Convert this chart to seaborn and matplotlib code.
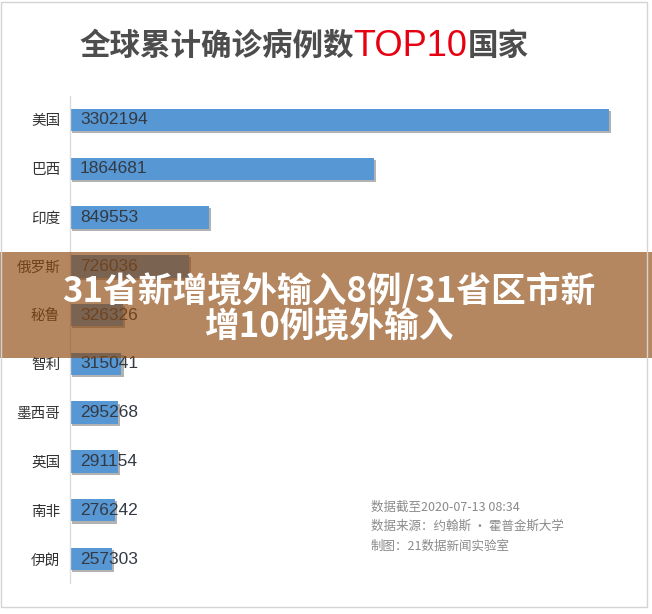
import matplotlib
matplotlib.use("Agg")
import matplotlib.pyplot as plt
import matplotlib.patheffects as pe
from matplotlib.patches import Rectangle
import pandas as pd
import seaborn as sns

# données
countries = ["美国", "巴西", "印度", "俄罗斯", "秘鲁", "智利", "墨西哥", "英国", "南非", "伊朗"]
cases = [3302194, 1864681, 849553, 726036, 326326, 315041, 295268, 291154, 276242, 257303]

title_parts = ["全球累计确诊病例数", "TOP10", "国家"]
notes = ["数据截至2020-07-13 08:34", "数据来源：约翰斯 · 霍普金斯大学", "制图：21数据新闻实验室"]
banner_lines = ["31省新增境外输入8例/31省区市新", "增10例境外输入"]

df = pd.DataFrame({"country": countries, "cases": cases})

sns.set_theme(style="white")
plt.rcParams["font.family"] = ["Noto Sans CJK SC", "DejaVu Sans"]

W, H = 652, 614
fig = plt.figure(figsize=(W / 100, H / 100), dpi=100)
fig.patch.set_facecolor("white")

# axes placé en pixels
top, bottom, left, right = 95.6, 583.4, 70, 620
ax = fig.add_axes([left / W, 1 - bottom / H, (right - left) / W, (bottom - top) / H])
sns.barplot(data=df, x="cases", y="country", color="#5797d3", width=0.46,
            saturation=1, linewidth=0, ax=ax, zorder=2)
ax.set_xlim(0, 3302194 * (right - left) / 539)
ax.set_ylim(9.5, -0.5)

for p in ax.patches:
    p.set_edgecolor("none")
    p.set_path_effects([pe.SimplePatchShadow(offset=(1.5, -1.5), shadow_rgbFace="#555555", alpha=0.45),
                        pe.Normal()])

for i, v in enumerate(cases):
    ax.text(ax.get_xlim()[1] * 10 / (right - left), i, str(v), va="center", ha="left",
            fontsize=12.5, color="#333a44", family=["Liberation Sans", "DejaVu Sans"], zorder=3)

ax.set_xlabel("")
ax.set_ylabel("")
ax.set_xticks([])
ax.tick_params(axis="y", length=0, pad=7, labelsize=10.5, labelcolor="#333333")
for s in ["top", "right", "bottom"]:
    ax.spines[s].set_visible(False)
ax.spines["left"].set_color("#dcdcdc")
ax.spines["left"].set_linewidth(1)
ax.set_facecolor("none")

# titre en trois morceaux de couleurs différentes
fig.canvas.draw()
renderer = fig.canvas.get_renderer()
x = 79 / W
styles = [
    dict(color="#4d4d4d", fontsize=22, fontweight="bold"),
    dict(color="#e60012", fontsize=26, family=["Liberation Sans", "DejaVu Sans"]),
    dict(color="#4d4d4d", fontsize=22, fontweight="bold"),
]
for part, st in zip(title_parts, styles):
    t = fig.text(x, 1 - 46 / H, part, va="center", ha="left", **st)
    bb = t.get_window_extent(renderer)
    x += bb.width / W

for k, line in enumerate(notes):
    fig.text(371 / W, 1 - (507 + k * 19.5) / H, line, va="center", ha="left",
             fontsize=9, color="#8a8a8a")

# bandeau semi-transparent
fig.patches.append(Rectangle((0, 1 - 358 / H), 1, 106 / H, transform=fig.transFigure,
                             facecolor=(143 / 255, 73 / 255, 14 / 255), alpha=0.66,
                             edgecolor="none", zorder=5))
for k, line in enumerate(banner_lines):
    fig.text(329 / W, 1 - (290 + k * 36.5) / H, line, va="center", ha="center",
             fontsize=25, fontweight="bold", color="white", zorder=6)

# cadre gris
fig.patches.append(Rectangle((1 / W, 1 - 607 / H), 646 / W, 605 / H, transform=fig.transFigure,
                             facecolor="none", edgecolor="#d4d4d4", linewidth=1, zorder=7))

fig.savefig("out.png", dpi=100)
